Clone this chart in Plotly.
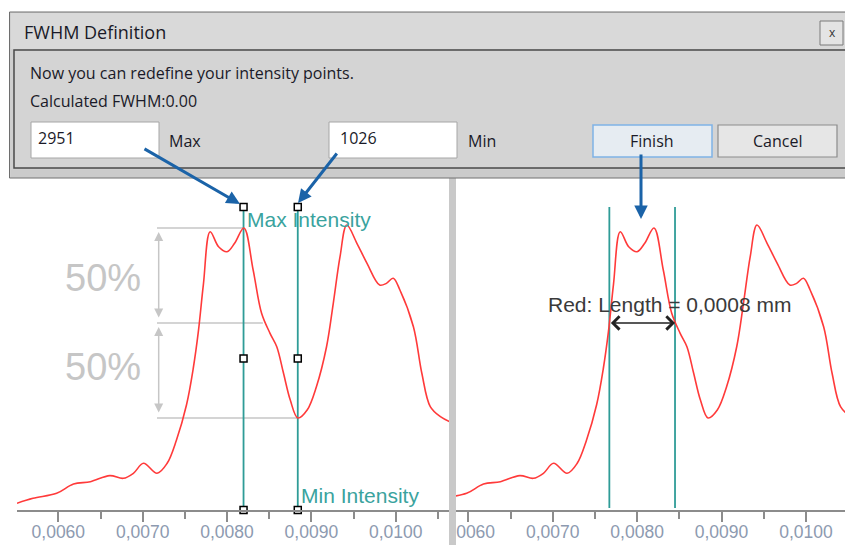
import plotly.graph_objects as go

# ---------------- data ----------------
pos_mm = [0.00551, 0.00570, 0.00598, 0.00618, 0.00638, 0.00661, 0.00677, 0.00689,
          0.00701, 0.00717, 0.00729, 0.00740, 0.00752, 0.00760, 0.00766, 0.00772,
          0.00780, 0.00790, 0.00800, 0.00809, 0.00820, 0.00831, 0.00841, 0.00851,
          0.00859, 0.00867, 0.00875, 0.00884, 0.00895, 0.00906, 0.00918, 0.00926,
          0.00934, 0.00942, 0.00954, 0.00966, 0.00981, 0.00989, 0.00997, 0.01005,
          0.01021, 0.01031, 0.01041, 0.01053, 0.01064]
intensity = [162, 212, 263, 357, 381, 442, 415, 466,
             567, 466, 567, 800, 1160, 1530, 1900, 2380,
             2913, 2761, 2711, 2796, 2951, 2525, 2087, 1884,
             1748, 1479, 1208, 1026, 1107, 1343, 1748, 2188,
             2660, 2981, 2796, 2593, 2373, 2390, 2441, 2323,
             1951, 1479, 1141, 1039, 989]

tick_vals = [0.0060, 0.0070, 0.0080, 0.0090, 0.0100]
tick_text = ["0,0060", "0,0070", "0,0080", "0,0090", "0,0100"]

max_intensity = 2951
min_intensity = 1026
max_pos = 0.008196      # Max Intensity marker line
min_pos = 0.008839      # Min Intensity marker line
fwhm_left = 0.007671    # FWHM crossing points (right panel)
fwhm_right = 0.008449
line_top = 3163         # top of the marker lines
y_range = [94, 3437]

W, H = 845, 545
def X(px):
    return px / W
def Y(py):
    return 1 - py / H

RED = "#ff3a3a"
TEAL = "#2f9c97"
TEAL_TXT = "#3aa39e"
GRAY = "#c6c6c6"
BLUE = "#1b63a8"
DLG_TXT = "#1a1a28"
TICK_COL = "#8d9ab0"

fig = go.Figure()

# curves
fig.add_trace(go.Scatter(x=pos_mm, y=intensity, mode="lines", xaxis="x", yaxis="y",
                         line=dict(color=RED, width=1.6, shape="spline", smoothing=1.0),
                         hoverinfo="skip", showlegend=False))
fig.add_trace(go.Scatter(x=pos_mm, y=intensity, mode="lines", xaxis="x2", yaxis="y2",
                         line=dict(color=RED, width=1.6, shape="spline", smoothing=1.0),
                         hoverinfo="skip", showlegend=False))

# square handles on the left panel marker lines
mid_handle = (line_top + y_range[0]) / 2
fig.add_trace(go.Scatter(x=[max_pos] * 3 + [min_pos] * 3,
                         y=[line_top, mid_handle, y_range[0]] * 2,
                         mode="markers", xaxis="x", yaxis="y", cliponaxis=False,
                         marker=dict(symbol="square", size=7, color="white",
                                     line=dict(color="black", width=1.5)),
                         hoverinfo="skip", showlegend=False))

axis_common = dict(showgrid=False, zeroline=False, showline=True, linecolor="#8c8c8c",
                   linewidth=1.5, ticks="outside", ticklen=10, tickwidth=1.5,
                   tickcolor="#8c8c8c", tickvals=tick_vals, ticktext=tick_text,
                   tickfont=dict(family="Liberation Sans", size=17.5, color=TICK_COL),
                   ticklabelstandoff=-5,
                   minor=dict(ticks="outside", ticklen=7, tickwidth=1.5,
                              tickcolor="#8c8c8c", dtick=0.0005, tick0=0.0055),
                   automargin=False, fixedrange=True)
yaxis_common = dict(visible=False, range=y_range, domain=[Y(510), Y(180)],
                    automargin=False, fixedrange=True)

fig.update_layout(
    width=W, height=H, margin=dict(l=0, r=0, t=0, b=0, pad=0, autoexpand=False),
    paper_bgcolor="white", plot_bgcolor="white", showlegend=False,
    xaxis=dict(domain=[X(17), X(449)], range=[0.005510, 0.010632], anchor="y", **axis_common),
    yaxis=dict(anchor="x", **yaxis_common),
    xaxis2=dict(domain=[X(456), 1.0], range=[0.005854, 0.010463], anchor="y2", **axis_common),
    yaxis2=dict(anchor="x2", **yaxis_common),
)

shapes = []
annos = []

# ---- left panel: 50% guides ----
gx0 = 0.00717
half = (max_intensity + min_intensity) / 2
for yv, x1 in [(max_intensity, max_pos), (half, 0.008425), (min_intensity, min_pos)]:
    shapes.append(dict(type="line", xref="x", yref="y", x0=gx0, x1=x1, y0=yv, y1=yv,
                       line=dict(color=GRAY, width=1.5), layer="below"))
for y_a, y_b in [(max_intensity, half), (half, min_intensity)]:
    annos.append(dict(xref="x", yref="y", axref="x", ayref="y", x=0.00719, y=y_a - 40,
                      ax=0.00719, ay=y_b + 40, text="", showarrow=True, arrowside="end+start",
                      arrowhead=2, arrowsize=1.2, arrowwidth=1.5, arrowcolor=GRAY))
for py in (278, 367):
    annos.append(dict(xref="paper", yref="paper", x=X(103), y=Y(py), text="50%",
                      showarrow=False, xanchor="center", yanchor="middle",
                      font=dict(family="Liberation Sans", size=38, color=GRAY)))

# teal marker lines
for xv in (max_pos, min_pos):
    shapes.append(dict(type="line", xref="x", yref="y", x0=xv, x1=xv, y0=y_range[0], y1=line_top,
                       line=dict(color=TEAL, width=1.8), layer="below"))
for xv in (fwhm_left, fwhm_right):
    shapes.append(dict(type="line", xref="x2", yref="y2", x0=xv, x1=xv, y0=114, y1=line_top,
                       line=dict(color=TEAL, width=1.8), layer="below"))

annos.append(dict(xref="paper", yref="paper", x=X(245), y=Y(219), text="Max Intensity",
                  showarrow=False, xanchor="left", yanchor="middle",
                  font=dict(family="Liberation Sans", size=21, color=TEAL_TXT)))
annos.append(dict(xref="paper", yref="paper", x=X(299), y=Y(495), text="Min Intensity",
                  showarrow=False, xanchor="left", yanchor="middle",
                  font=dict(family="Liberation Sans", size=21, color=TEAL_TXT)))

# right panel FWHM arrow + label
annos.append(dict(xref="x2", yref="y2", axref="x2", ayref="y2", x=fwhm_right, y=half,
                  ax=fwhm_left, ay=half, text="", showarrow=True, arrowside="end+start",
                  arrowhead=4, arrowsize=1.6, arrowwidth=1.6, arrowcolor="#222222"))
annos.append(dict(xref="x2", yref="y2", x=0.008378, y=2171, text="Red: Length = 0,0008 mm",
                  showarrow=False, xanchor="center", yanchor="middle",
                  font=dict(family="Liberation Sans", size=21, color="#3a3a3a")))

# separator between panels + cover for clipped tick label
shapes.append(dict(type="rect", xref="paper", yref="paper", x0=X(436), x1=X(449), y0=0, y1=Y(519),
                   fillcolor="white", line=dict(width=0), layer="above"))
shapes.append(dict(type="rect", xref="paper", yref="paper", x0=X(449), x1=X(456), y0=0, y1=Y(178),
                   fillcolor="#c9c9c9", line=dict(width=0), layer="above"))

# ---------------- dialog ----------------
def rect(x0, y0, x1, y1, fill, line_col, lw=1):
    shapes.append(dict(type="rect", xref="paper", yref="paper", x0=X(x0), x1=X(x1),
                       y0=Y(y1), y1=Y(y0), fillcolor=fill,
                       line=dict(color=line_col, width=lw), layer="above"))

rect(9.5, 12, 850, 178, "#cfcfcf", "#6e6e6e", 1)      # window frame
rect(11, 13, 850, 49, "#d9d9d9", "#d9d9d9", 0)         # title bar
rect(14, 50, 850, 168, "#d4d4d4", "#4a4a4a", 1.5)     # client area
rect(11, 170, 850, 177, "#cbcbcb", "#cbcbcb", 0)       # bottom band
rect(820, 21, 843, 45, "#e4e4e4", "#7a7a7a", 1)       # close button
rect(31, 122, 159, 158, "white", "#a6a6a6", 1)        # max box
rect(329, 122, 457, 158, "white", "#a6a6a6", 1)       # min box
rect(593, 125, 712, 157, "#e6ecf2", "#7fb2e6", 1.5)   # Finish
rect(718, 125, 837, 157, "#e6e6e6", "#8c8c8c", 1.2)   # Cancel

def txt(x, y, s, size=16, anchor="left", color=DLG_TXT):
    annos.append(dict(xref="paper", yref="paper", x=X(x), y=Y(y), text=s, showarrow=False,
                      xanchor=anchor, yanchor="middle",
                      font=dict(family="Open Sans", size=size, color=color)))

txt(22, 32, "FWHM Definition", 18)
txt(832, 33, "x", 12, "center", "#333333")
txt(28, 73, "Now you can redefine your intensity points.", 16)
txt(28, 101, "Calculated FWHM:0.00", 16)
txt(36, 138, str(max_intensity), 16)
txt(167, 141, "Max", 16)
txt(338, 138, str(min_intensity), 16)
txt(466, 141, "Min", 16)
txt(652, 141, "Finish", 16, "center")
txt(777, 141, "Cancel", 16, "center")

# blue pointer arrows
for tip, tail in [((240, 204), (143, 148)), ((298, 203), (338, 152)), ((641, 219), (641, 153))]:
    annos.append(dict(xref="paper", yref="paper", x=X(tip[0]), y=Y(tip[1]),
                      ax=tail[0] - tip[0], ay=tail[1] - tip[1], text="", showarrow=True,
                      arrowhead=2, arrowsize=0.9, arrowwidth=3, arrowcolor=BLUE, standoff=0))

fig.update_layout(shapes=shapes, annotations=annos)
fig.write_html("out.html", config={"displayModeBar": False},
               post_script="document.body.style.margin='0';document.body.style.padding='0';"
                           "document.body.style.overflow='hidden';")
